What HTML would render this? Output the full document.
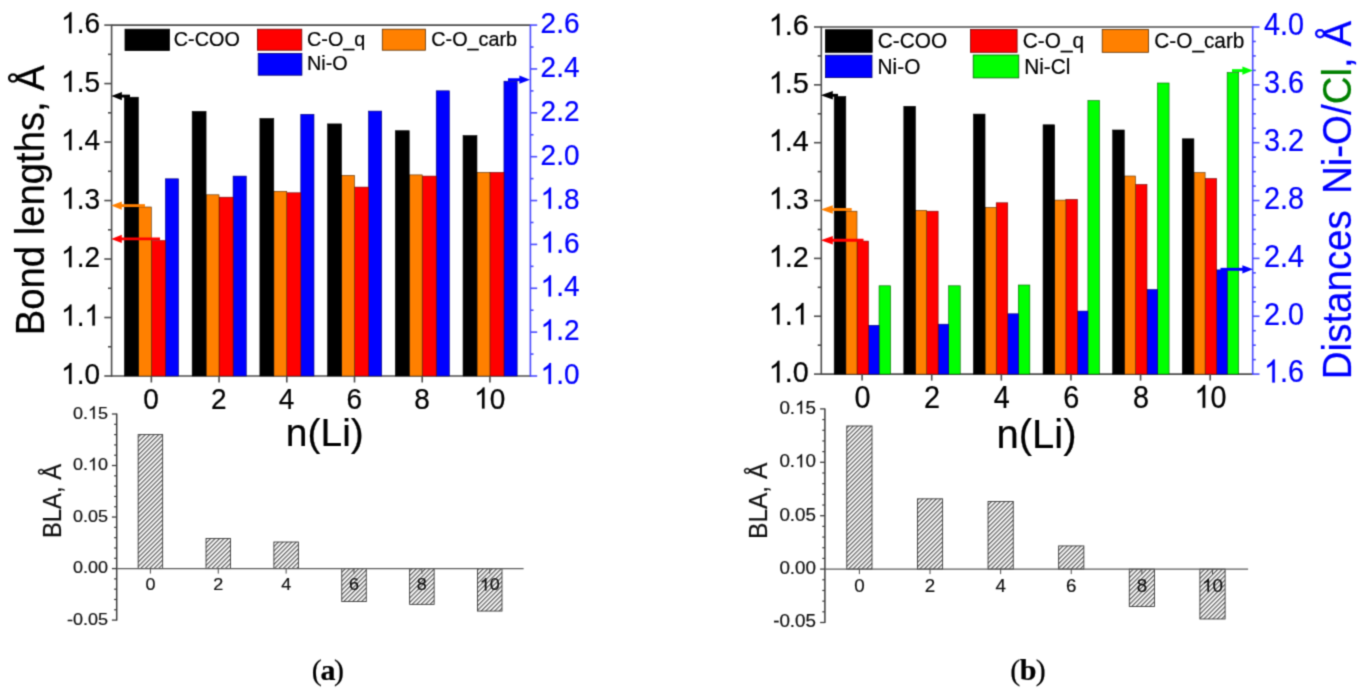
<!DOCTYPE html>
<html><head><meta charset="utf-8"><title>Figure</title>
<style>html,body{margin:0;padding:0;background:#fff;overflow:hidden}svg{display:block}text{font-family:"Liberation Sans",sans-serif;stroke-width:0.22px;stroke-linejoin:round}</style>
</head><body>
<svg width="1366" height="693" viewBox="0 0 1366 693">
<defs><filter id="soft" x="0" y="0" width="1" height="1" filterUnits="objectBoundingBox" color-interpolation-filters="sRGB"><feConvolveMatrix order="3" kernelMatrix="0.03108 0.11414 0.03108 0.11414 0.41911 0.11414 0.03108 0.11414 0.03108" divisor="1" edgeMode="duplicate" preserveAlpha="true"/></filter></defs>
<defs><pattern id="hatch" width="3.15" height="3.15" patternUnits="userSpaceOnUse" patternTransform="rotate(-45)"><rect width="3.15" height="3.15" fill="#fdfdfd"/><rect width="3.15" height="1.15" fill="#555"/></pattern></defs>
<g filter="url(#soft)">
<rect width="1366" height="693" fill="#fff"/>
<line x1="111.60" y1="25.10" x2="530.40" y2="25.10" stroke="#4c4c4c" stroke-width="1.6"/>
<line x1="110.95" y1="376.00" x2="531.05" y2="376.00" stroke="#4c4c4c" stroke-width="1.6"/>
<line x1="111.60" y1="24.45" x2="111.60" y2="376.65" stroke="#4c4c4c" stroke-width="1.6"/>
<line x1="530.40" y1="24.45" x2="530.40" y2="376.65" stroke="#4a4aff" stroke-width="1.6"/>
<rect x="165.35" y="178.80" width="13.20" height="197.20" fill="#0000ff" stroke="#000070" stroke-width="0.6" />
<rect x="151.30" y="240.60" width="14.05" height="135.40" fill="#ff0000" stroke="#700000" stroke-width="0.6" />
<rect x="138.35" y="207.00" width="12.95" height="169.00" fill="#ff8000" stroke="#5a2d00" stroke-width="0.6" />
<rect x="124.45" y="97.20" width="13.90" height="278.80" fill="#000000" stroke="#000000" stroke-width="0.6" />
<rect x="233.07" y="176.10" width="13.20" height="199.90" fill="#0000ff" stroke="#000070" stroke-width="0.6" />
<rect x="219.02" y="197.20" width="14.05" height="178.80" fill="#ff0000" stroke="#700000" stroke-width="0.6" />
<rect x="206.07" y="194.80" width="12.95" height="181.20" fill="#ff8000" stroke="#5a2d00" stroke-width="0.6" />
<rect x="192.17" y="111.40" width="13.90" height="264.60" fill="#000000" stroke="#000000" stroke-width="0.6" />
<rect x="300.79" y="114.30" width="13.20" height="261.70" fill="#0000ff" stroke="#000070" stroke-width="0.6" />
<rect x="286.74" y="192.80" width="14.05" height="183.20" fill="#ff0000" stroke="#700000" stroke-width="0.6" />
<rect x="273.79" y="191.30" width="12.95" height="184.70" fill="#ff8000" stroke="#5a2d00" stroke-width="0.6" />
<rect x="259.89" y="118.50" width="13.90" height="257.50" fill="#000000" stroke="#000000" stroke-width="0.6" />
<rect x="368.51" y="111.10" width="13.20" height="264.90" fill="#0000ff" stroke="#000070" stroke-width="0.6" />
<rect x="354.46" y="187.10" width="14.05" height="188.90" fill="#ff0000" stroke="#700000" stroke-width="0.6" />
<rect x="341.51" y="175.40" width="12.95" height="200.60" fill="#ff8000" stroke="#5a2d00" stroke-width="0.6" />
<rect x="327.61" y="123.90" width="13.90" height="252.10" fill="#000000" stroke="#000000" stroke-width="0.6" />
<rect x="436.23" y="90.80" width="13.20" height="285.20" fill="#0000ff" stroke="#000070" stroke-width="0.6" />
<rect x="422.18" y="176.10" width="14.05" height="199.90" fill="#ff0000" stroke="#700000" stroke-width="0.6" />
<rect x="409.23" y="174.90" width="12.95" height="201.10" fill="#ff8000" stroke="#5a2d00" stroke-width="0.6" />
<rect x="395.33" y="130.70" width="13.90" height="245.30" fill="#000000" stroke="#000000" stroke-width="0.6" />
<rect x="503.95" y="81.20" width="13.20" height="294.80" fill="#0000ff" stroke="#000070" stroke-width="0.6" />
<rect x="489.90" y="172.40" width="14.05" height="203.60" fill="#ff0000" stroke="#700000" stroke-width="0.6" />
<rect x="476.95" y="172.40" width="12.95" height="203.60" fill="#ff8000" stroke="#5a2d00" stroke-width="0.6" />
<rect x="463.05" y="135.60" width="13.90" height="240.40" fill="#000000" stroke="#000000" stroke-width="0.6" />
<line x1="104.30" y1="25.10" x2="111.60" y2="25.10" stroke="#4c4c4c" stroke-width="1.6"/>
<g transform="translate(100.00,33.20) scale(1,1.045)" fill="#000" stroke="#000">
<text x="-23.35 -15.57" y="0" font-size="28">.6</text>
<path transform="translate(-38.93,0) scale(0.01367,-0.01367)" d="M763 0H583V1147Q518 1085 412.5 1023Q307 961 223 930V1104Q374 1175 487 1276Q600 1377 647 1472H763Z" stroke-width="16.1" stroke-linejoin="round"/>
</g>
<line x1="108.00" y1="54.34" x2="111.60" y2="54.34" stroke="#4c4c4c" stroke-width="1.6"/>
<line x1="104.30" y1="83.58" x2="111.60" y2="83.58" stroke="#4c4c4c" stroke-width="1.6"/>
<g transform="translate(100.00,91.68) scale(1,1.045)" fill="#000" stroke="#000">
<text x="-23.35 -15.57" y="0" font-size="28">.5</text>
<path transform="translate(-38.93,0) scale(0.01367,-0.01367)" d="M763 0H583V1147Q518 1085 412.5 1023Q307 961 223 930V1104Q374 1175 487 1276Q600 1377 647 1472H763Z" stroke-width="16.1" stroke-linejoin="round"/>
</g>
<line x1="108.00" y1="112.82" x2="111.60" y2="112.82" stroke="#4c4c4c" stroke-width="1.6"/>
<line x1="104.30" y1="142.07" x2="111.60" y2="142.07" stroke="#4c4c4c" stroke-width="1.6"/>
<g transform="translate(100.00,150.17) scale(1,1.045)" fill="#000" stroke="#000">
<text x="-23.35 -15.57" y="0" font-size="28">.4</text>
<path transform="translate(-38.93,0) scale(0.01367,-0.01367)" d="M763 0H583V1147Q518 1085 412.5 1023Q307 961 223 930V1104Q374 1175 487 1276Q600 1377 647 1472H763Z" stroke-width="16.1" stroke-linejoin="round"/>
</g>
<line x1="108.00" y1="171.31" x2="111.60" y2="171.31" stroke="#4c4c4c" stroke-width="1.6"/>
<line x1="104.30" y1="200.55" x2="111.60" y2="200.55" stroke="#4c4c4c" stroke-width="1.6"/>
<g transform="translate(100.00,208.65) scale(1,1.045)" fill="#000" stroke="#000">
<text x="-23.35 -15.57" y="0" font-size="28">.3</text>
<path transform="translate(-38.93,0) scale(0.01367,-0.01367)" d="M763 0H583V1147Q518 1085 412.5 1023Q307 961 223 930V1104Q374 1175 487 1276Q600 1377 647 1472H763Z" stroke-width="16.1" stroke-linejoin="round"/>
</g>
<line x1="108.00" y1="229.79" x2="111.60" y2="229.79" stroke="#4c4c4c" stroke-width="1.6"/>
<line x1="104.30" y1="259.03" x2="111.60" y2="259.03" stroke="#4c4c4c" stroke-width="1.6"/>
<g transform="translate(100.00,267.13) scale(1,1.045)" fill="#000" stroke="#000">
<text x="-23.35 -15.57" y="0" font-size="28">.2</text>
<path transform="translate(-38.93,0) scale(0.01367,-0.01367)" d="M763 0H583V1147Q518 1085 412.5 1023Q307 961 223 930V1104Q374 1175 487 1276Q600 1377 647 1472H763Z" stroke-width="16.1" stroke-linejoin="round"/>
</g>
<line x1="108.00" y1="288.27" x2="111.60" y2="288.27" stroke="#4c4c4c" stroke-width="1.6"/>
<line x1="104.30" y1="317.52" x2="111.60" y2="317.52" stroke="#4c4c4c" stroke-width="1.6"/>
<g transform="translate(100.00,325.62) scale(1,1.045)" fill="#000" stroke="#000">
<text x="-23.35" y="0" font-size="28">.</text>
<path transform="translate(-38.93,0) scale(0.01367,-0.01367)" d="M763 0H583V1147Q518 1085 412.5 1023Q307 961 223 930V1104Q374 1175 487 1276Q600 1377 647 1472H763Z" stroke-width="16.1" stroke-linejoin="round"/>
<path transform="translate(-15.57,0) scale(0.01367,-0.01367)" d="M763 0H583V1147Q518 1085 412.5 1023Q307 961 223 930V1104Q374 1175 487 1276Q600 1377 647 1472H763Z" stroke-width="16.1" stroke-linejoin="round"/>
</g>
<line x1="108.00" y1="346.76" x2="111.60" y2="346.76" stroke="#4c4c4c" stroke-width="1.6"/>
<line x1="104.30" y1="376.00" x2="111.60" y2="376.00" stroke="#4c4c4c" stroke-width="1.6"/>
<g transform="translate(100.00,384.10) scale(1,1.045)" fill="#000" stroke="#000">
<text x="-23.35 -15.57" y="0" font-size="28">.0</text>
<path transform="translate(-38.93,0) scale(0.01367,-0.01367)" d="M763 0H583V1147Q518 1085 412.5 1023Q307 961 223 930V1104Q374 1175 487 1276Q600 1377 647 1472H763Z" stroke-width="16.1" stroke-linejoin="round"/>
</g>
<line x1="530.40" y1="25.10" x2="537.20" y2="25.10" stroke="#4a4aff" stroke-width="1.6"/>
<g transform="translate(540.60,33.20) scale(1,1.045)" fill="#0000ff" stroke="#0000ff">
<text x="0.00 15.57 23.35" y="0" font-size="28">2.6</text>
</g>
<line x1="530.40" y1="47.03" x2="533.50" y2="47.03" stroke="#4a4aff" stroke-width="1.6"/>
<line x1="530.40" y1="68.96" x2="537.20" y2="68.96" stroke="#4a4aff" stroke-width="1.6"/>
<g transform="translate(540.60,77.06) scale(1,1.045)" fill="#0000ff" stroke="#0000ff">
<text x="0.00 15.57 23.35" y="0" font-size="28">2.4</text>
</g>
<line x1="530.40" y1="90.89" x2="533.50" y2="90.89" stroke="#4a4aff" stroke-width="1.6"/>
<line x1="530.40" y1="112.82" x2="537.20" y2="112.82" stroke="#4a4aff" stroke-width="1.6"/>
<g transform="translate(540.60,120.92) scale(1,1.045)" fill="#0000ff" stroke="#0000ff">
<text x="0.00 15.57 23.35" y="0" font-size="28">2.2</text>
</g>
<line x1="530.40" y1="134.76" x2="533.50" y2="134.76" stroke="#4a4aff" stroke-width="1.6"/>
<line x1="530.40" y1="156.69" x2="537.20" y2="156.69" stroke="#4a4aff" stroke-width="1.6"/>
<g transform="translate(540.60,164.79) scale(1,1.045)" fill="#0000ff" stroke="#0000ff">
<text x="0.00 15.57 23.35" y="0" font-size="28">2.0</text>
</g>
<line x1="530.40" y1="178.62" x2="533.50" y2="178.62" stroke="#4a4aff" stroke-width="1.6"/>
<line x1="530.40" y1="200.55" x2="537.20" y2="200.55" stroke="#4a4aff" stroke-width="1.6"/>
<g transform="translate(540.60,208.65) scale(1,1.045)" fill="#0000ff" stroke="#0000ff">
<text x="15.57 23.35" y="0" font-size="28">.8</text>
<path transform="translate(0.00,0) scale(0.01367,-0.01367)" d="M763 0H583V1147Q518 1085 412.5 1023Q307 961 223 930V1104Q374 1175 487 1276Q600 1377 647 1472H763Z" stroke-width="16.1" stroke-linejoin="round"/>
</g>
<line x1="530.40" y1="222.48" x2="533.50" y2="222.48" stroke="#4a4aff" stroke-width="1.6"/>
<line x1="530.40" y1="244.41" x2="537.20" y2="244.41" stroke="#4a4aff" stroke-width="1.6"/>
<g transform="translate(540.60,252.51) scale(1,1.045)" fill="#0000ff" stroke="#0000ff">
<text x="15.57 23.35" y="0" font-size="28">.6</text>
<path transform="translate(0.00,0) scale(0.01367,-0.01367)" d="M763 0H583V1147Q518 1085 412.5 1023Q307 961 223 930V1104Q374 1175 487 1276Q600 1377 647 1472H763Z" stroke-width="16.1" stroke-linejoin="round"/>
</g>
<line x1="530.40" y1="266.34" x2="533.50" y2="266.34" stroke="#4a4aff" stroke-width="1.6"/>
<line x1="530.40" y1="288.27" x2="537.20" y2="288.27" stroke="#4a4aff" stroke-width="1.6"/>
<g transform="translate(540.60,296.38) scale(1,1.045)" fill="#0000ff" stroke="#0000ff">
<text x="15.57 23.35" y="0" font-size="28">.4</text>
<path transform="translate(0.00,0) scale(0.01367,-0.01367)" d="M763 0H583V1147Q518 1085 412.5 1023Q307 961 223 930V1104Q374 1175 487 1276Q600 1377 647 1472H763Z" stroke-width="16.1" stroke-linejoin="round"/>
</g>
<line x1="530.40" y1="310.21" x2="533.50" y2="310.21" stroke="#4a4aff" stroke-width="1.6"/>
<line x1="530.40" y1="332.14" x2="537.20" y2="332.14" stroke="#4a4aff" stroke-width="1.6"/>
<g transform="translate(540.60,340.24) scale(1,1.045)" fill="#0000ff" stroke="#0000ff">
<text x="15.57 23.35" y="0" font-size="28">.2</text>
<path transform="translate(0.00,0) scale(0.01367,-0.01367)" d="M763 0H583V1147Q518 1085 412.5 1023Q307 961 223 930V1104Q374 1175 487 1276Q600 1377 647 1472H763Z" stroke-width="16.1" stroke-linejoin="round"/>
</g>
<line x1="530.40" y1="354.07" x2="533.50" y2="354.07" stroke="#4a4aff" stroke-width="1.6"/>
<line x1="530.40" y1="376.00" x2="537.20" y2="376.00" stroke="#4a4aff" stroke-width="1.6"/>
<g transform="translate(540.60,384.10) scale(1,1.045)" fill="#0000ff" stroke="#0000ff">
<text x="15.57 23.35" y="0" font-size="28">.0</text>
<path transform="translate(0.00,0) scale(0.01367,-0.01367)" d="M763 0H583V1147Q518 1085 412.5 1023Q307 961 223 930V1104Q374 1175 487 1276Q600 1377 647 1472H763Z" stroke-width="16.1" stroke-linejoin="round"/>
</g>
<line x1="151.35" y1="376.00" x2="151.35" y2="382.50" stroke="#4c4c4c" stroke-width="1.6"/>
<g transform="translate(151.05,408.50) scale(1,1.045)" fill="#000" stroke="#000">
<text x="-7.79" y="0" font-size="28">0</text>
</g>
<line x1="219.07" y1="376.00" x2="219.07" y2="382.50" stroke="#4c4c4c" stroke-width="1.6"/>
<g transform="translate(218.77,408.50) scale(1,1.045)" fill="#000" stroke="#000">
<text x="-7.79" y="0" font-size="28">2</text>
</g>
<line x1="286.79" y1="376.00" x2="286.79" y2="382.50" stroke="#4c4c4c" stroke-width="1.6"/>
<g transform="translate(286.49,408.50) scale(1,1.045)" fill="#000" stroke="#000">
<text x="-7.79" y="0" font-size="28">4</text>
</g>
<line x1="354.51" y1="376.00" x2="354.51" y2="382.50" stroke="#4c4c4c" stroke-width="1.6"/>
<g transform="translate(354.21,408.50) scale(1,1.045)" fill="#000" stroke="#000">
<text x="-7.79" y="0" font-size="28">6</text>
</g>
<line x1="422.23" y1="376.00" x2="422.23" y2="382.50" stroke="#4c4c4c" stroke-width="1.6"/>
<g transform="translate(421.93,408.50) scale(1,1.045)" fill="#000" stroke="#000">
<text x="-7.79" y="0" font-size="28">8</text>
</g>
<line x1="489.95" y1="376.00" x2="489.95" y2="382.50" stroke="#4c4c4c" stroke-width="1.6"/>
<g transform="translate(489.65,408.50) scale(1,1.045)" fill="#000" stroke="#000">
<text x="0.00" y="0" font-size="28">0</text>
<path transform="translate(-15.57,0) scale(0.01367,-0.01367)" d="M763 0H583V1147Q518 1085 412.5 1023Q307 961 223 930V1104Q374 1175 487 1276Q600 1377 647 1472H763Z" stroke-width="16.1" stroke-linejoin="round"/>
</g>
<text x="324.80" y="445.60" font-size="39" fill="#000" stroke="#000" text-anchor="middle">n(Li)</text>
<rect x="125.00" y="29.20" width="44.40" height="21.30" fill="#000000" stroke="#000000" stroke-width="0.8" />
<text transform="translate(173.80,46.20) scale(1,1.045)" font-size="19.8" fill="#000" stroke="#000" text-anchor="start" >C-COO</text>
<rect x="257.40" y="29.20" width="44.40" height="21.00" fill="#ff0000" stroke="#700000" stroke-width="0.8" />
<text transform="translate(307.00,46.20) scale(1,1.045)" font-size="19.8" fill="#000" stroke="#000" text-anchor="start" >C-O_q</text>
<rect x="382.30" y="29.20" width="43.10" height="21.00" fill="#ff8000" stroke="#5a2d00" stroke-width="0.8" />
<text transform="translate(431.30,46.20) scale(1,1.045)" font-size="19.8" fill="#000" stroke="#000" text-anchor="start" >C-O_carb</text>
<rect x="258.20" y="53.40" width="43.70" height="21.80" fill="#0000ff" stroke="#000070" stroke-width="0.8" />
<text transform="translate(307.00,69.90) scale(1,1.045)" font-size="19.8" fill="#000" stroke="#000" text-anchor="start" >Ni-O</text>
<text transform="translate(43.6,200.2) rotate(-90) scale(1,1.045)" font-size="38.5" fill="#000" stroke="#000" text-anchor="middle" textLength="270" lengthAdjust="spacingAndGlyphs">Bond lengths, Å</text>
<line x1="120.90" y1="96.10" x2="130.00" y2="96.10" stroke="#000" stroke-width="2.9"/>
<polygon points="111.30,96.10 121.90,92.00 121.90,100.20" fill="#000"/>
<line x1="120.80" y1="205.60" x2="145.00" y2="205.60" stroke="#ff8000" stroke-width="2.9"/>
<polygon points="111.20,205.60 121.80,201.50 121.80,209.70" fill="#ff8000"/>
<line x1="120.80" y1="238.90" x2="160.00" y2="238.90" stroke="#ff0000" stroke-width="2.9"/>
<polygon points="111.20,238.90 121.80,234.80 121.80,243.00" fill="#ff0000"/>
<line x1="508.00" y1="79.70" x2="520.40" y2="79.70" stroke="#0000ff" stroke-width="2.9"/>
<polygon points="530.00,79.70 519.40,75.60 519.40,83.80" fill="#0000ff"/>
<line x1="821.30" y1="27.00" x2="1252.70" y2="27.00" stroke="#4c4c4c" stroke-width="1.6"/>
<line x1="820.65" y1="374.10" x2="1253.35" y2="374.10" stroke="#4c4c4c" stroke-width="1.6"/>
<line x1="821.30" y1="26.35" x2="821.30" y2="374.75" stroke="#4c4c4c" stroke-width="1.6"/>
<line x1="1252.70" y1="26.35" x2="1252.70" y2="374.75" stroke="#4a4aff" stroke-width="1.6"/>
<rect x="879.05" y="285.80" width="11.55" height="88.30" fill="#00ff00" stroke="#006000" stroke-width="0.6" />
<rect x="868.50" y="325.30" width="10.55" height="48.80" fill="#0000ff" stroke="#000070" stroke-width="0.6" />
<rect x="857.00" y="241.10" width="11.50" height="133.00" fill="#ff0000" stroke="#700000" stroke-width="0.6" />
<rect x="845.80" y="211.20" width="11.20" height="162.90" fill="#ff8000" stroke="#5a2d00" stroke-width="0.6" />
<rect x="834.20" y="96.50" width="11.60" height="277.60" fill="#000000" stroke="#000000" stroke-width="0.6" />
<rect x="948.67" y="285.80" width="11.55" height="88.30" fill="#00ff00" stroke="#006000" stroke-width="0.6" />
<rect x="938.12" y="324.20" width="10.55" height="49.90" fill="#0000ff" stroke="#000070" stroke-width="0.6" />
<rect x="926.62" y="211.20" width="11.50" height="162.90" fill="#ff0000" stroke="#700000" stroke-width="0.6" />
<rect x="915.42" y="210.30" width="11.20" height="163.80" fill="#ff8000" stroke="#5a2d00" stroke-width="0.6" />
<rect x="903.82" y="106.30" width="11.60" height="267.80" fill="#000000" stroke="#000000" stroke-width="0.6" />
<rect x="1018.29" y="285.00" width="11.55" height="89.10" fill="#00ff00" stroke="#006000" stroke-width="0.6" />
<rect x="1007.74" y="313.80" width="10.55" height="60.30" fill="#0000ff" stroke="#000070" stroke-width="0.6" />
<rect x="996.24" y="202.80" width="11.50" height="171.30" fill="#ff0000" stroke="#700000" stroke-width="0.6" />
<rect x="985.04" y="207.40" width="11.20" height="166.70" fill="#ff8000" stroke="#5a2d00" stroke-width="0.6" />
<rect x="973.44" y="114.10" width="11.60" height="260.00" fill="#000000" stroke="#000000" stroke-width="0.6" />
<rect x="1087.91" y="100.60" width="11.55" height="273.50" fill="#00ff00" stroke="#006000" stroke-width="0.6" />
<rect x="1077.36" y="311.10" width="10.55" height="63.00" fill="#0000ff" stroke="#000070" stroke-width="0.6" />
<rect x="1065.86" y="199.40" width="11.50" height="174.70" fill="#ff0000" stroke="#700000" stroke-width="0.6" />
<rect x="1054.66" y="200.10" width="11.20" height="174.00" fill="#ff8000" stroke="#5a2d00" stroke-width="0.6" />
<rect x="1043.06" y="124.80" width="11.60" height="249.30" fill="#000000" stroke="#000000" stroke-width="0.6" />
<rect x="1157.53" y="83.00" width="11.55" height="291.10" fill="#00ff00" stroke="#006000" stroke-width="0.6" />
<rect x="1146.98" y="289.50" width="10.55" height="84.60" fill="#0000ff" stroke="#000070" stroke-width="0.6" />
<rect x="1135.48" y="184.50" width="11.50" height="189.60" fill="#ff0000" stroke="#700000" stroke-width="0.6" />
<rect x="1124.28" y="176.00" width="11.20" height="198.10" fill="#ff8000" stroke="#5a2d00" stroke-width="0.6" />
<rect x="1112.68" y="130.00" width="11.60" height="244.10" fill="#000000" stroke="#000000" stroke-width="0.6" />
<rect x="1227.15" y="72.60" width="11.55" height="301.50" fill="#00ff00" stroke="#006000" stroke-width="0.6" />
<rect x="1216.60" y="269.90" width="10.55" height="104.20" fill="#0000ff" stroke="#000070" stroke-width="0.6" />
<rect x="1205.10" y="178.60" width="11.50" height="195.50" fill="#ff0000" stroke="#700000" stroke-width="0.6" />
<rect x="1193.90" y="172.60" width="11.20" height="201.50" fill="#ff8000" stroke="#5a2d00" stroke-width="0.6" />
<rect x="1182.30" y="138.80" width="11.60" height="235.30" fill="#000000" stroke="#000000" stroke-width="0.6" />
<line x1="814.00" y1="27.00" x2="821.30" y2="27.00" stroke="#4c4c4c" stroke-width="1.6"/>
<g transform="translate(808.80,35.30) scale(1,1.045)" fill="#000" stroke="#000">
<text x="-24.02 -16.02" y="0" font-size="28.8">.6</text>
<path transform="translate(-40.04,0) scale(0.01406,-0.01406)" d="M763 0H583V1147Q518 1085 412.5 1023Q307 961 223 930V1104Q374 1175 487 1276Q600 1377 647 1472H763Z" stroke-width="15.6" stroke-linejoin="round"/>
</g>
<line x1="817.70" y1="55.92" x2="821.30" y2="55.92" stroke="#4c4c4c" stroke-width="1.6"/>
<line x1="814.00" y1="84.85" x2="821.30" y2="84.85" stroke="#4c4c4c" stroke-width="1.6"/>
<g transform="translate(808.80,93.15) scale(1,1.045)" fill="#000" stroke="#000">
<text x="-24.02 -16.02" y="0" font-size="28.8">.5</text>
<path transform="translate(-40.04,0) scale(0.01406,-0.01406)" d="M763 0H583V1147Q518 1085 412.5 1023Q307 961 223 930V1104Q374 1175 487 1276Q600 1377 647 1472H763Z" stroke-width="15.6" stroke-linejoin="round"/>
</g>
<line x1="817.70" y1="113.77" x2="821.30" y2="113.77" stroke="#4c4c4c" stroke-width="1.6"/>
<line x1="814.00" y1="142.70" x2="821.30" y2="142.70" stroke="#4c4c4c" stroke-width="1.6"/>
<g transform="translate(808.80,151.00) scale(1,1.045)" fill="#000" stroke="#000">
<text x="-24.02 -16.02" y="0" font-size="28.8">.4</text>
<path transform="translate(-40.04,0) scale(0.01406,-0.01406)" d="M763 0H583V1147Q518 1085 412.5 1023Q307 961 223 930V1104Q374 1175 487 1276Q600 1377 647 1472H763Z" stroke-width="15.6" stroke-linejoin="round"/>
</g>
<line x1="817.70" y1="171.62" x2="821.30" y2="171.62" stroke="#4c4c4c" stroke-width="1.6"/>
<line x1="814.00" y1="200.55" x2="821.30" y2="200.55" stroke="#4c4c4c" stroke-width="1.6"/>
<g transform="translate(808.80,208.85) scale(1,1.045)" fill="#000" stroke="#000">
<text x="-24.02 -16.02" y="0" font-size="28.8">.3</text>
<path transform="translate(-40.04,0) scale(0.01406,-0.01406)" d="M763 0H583V1147Q518 1085 412.5 1023Q307 961 223 930V1104Q374 1175 487 1276Q600 1377 647 1472H763Z" stroke-width="15.6" stroke-linejoin="round"/>
</g>
<line x1="817.70" y1="229.48" x2="821.30" y2="229.48" stroke="#4c4c4c" stroke-width="1.6"/>
<line x1="814.00" y1="258.40" x2="821.30" y2="258.40" stroke="#4c4c4c" stroke-width="1.6"/>
<g transform="translate(808.80,266.70) scale(1,1.045)" fill="#000" stroke="#000">
<text x="-24.02 -16.02" y="0" font-size="28.8">.2</text>
<path transform="translate(-40.04,0) scale(0.01406,-0.01406)" d="M763 0H583V1147Q518 1085 412.5 1023Q307 961 223 930V1104Q374 1175 487 1276Q600 1377 647 1472H763Z" stroke-width="15.6" stroke-linejoin="round"/>
</g>
<line x1="817.70" y1="287.32" x2="821.30" y2="287.32" stroke="#4c4c4c" stroke-width="1.6"/>
<line x1="814.00" y1="316.25" x2="821.30" y2="316.25" stroke="#4c4c4c" stroke-width="1.6"/>
<g transform="translate(808.80,324.55) scale(1,1.045)" fill="#000" stroke="#000">
<text x="-24.02" y="0" font-size="28.8">.</text>
<path transform="translate(-40.04,0) scale(0.01406,-0.01406)" d="M763 0H583V1147Q518 1085 412.5 1023Q307 961 223 930V1104Q374 1175 487 1276Q600 1377 647 1472H763Z" stroke-width="15.6" stroke-linejoin="round"/>
<path transform="translate(-16.02,0) scale(0.01406,-0.01406)" d="M763 0H583V1147Q518 1085 412.5 1023Q307 961 223 930V1104Q374 1175 487 1276Q600 1377 647 1472H763Z" stroke-width="15.6" stroke-linejoin="round"/>
</g>
<line x1="817.70" y1="345.18" x2="821.30" y2="345.18" stroke="#4c4c4c" stroke-width="1.6"/>
<line x1="814.00" y1="374.10" x2="821.30" y2="374.10" stroke="#4c4c4c" stroke-width="1.6"/>
<g transform="translate(808.80,382.40) scale(1,1.045)" fill="#000" stroke="#000">
<text x="-24.02 -16.02" y="0" font-size="28.8">.0</text>
<path transform="translate(-40.04,0) scale(0.01406,-0.01406)" d="M763 0H583V1147Q518 1085 412.5 1023Q307 961 223 930V1104Q374 1175 487 1276Q600 1377 647 1472H763Z" stroke-width="15.6" stroke-linejoin="round"/>
</g>
<line x1="1252.70" y1="27.00" x2="1259.50" y2="27.00" stroke="#4a4aff" stroke-width="1.6"/>
<g transform="translate(1264.10,35.30) scale(1,1.11)" fill="#0000ff" stroke="#0000ff">
<text x="0.00 16.02 24.02" y="0" font-size="28.8">4.0</text>
</g>
<line x1="1252.70" y1="41.46" x2="1255.80" y2="41.46" stroke="#4a4aff" stroke-width="1.6"/>
<line x1="1252.70" y1="55.92" x2="1255.80" y2="55.92" stroke="#4a4aff" stroke-width="1.6"/>
<line x1="1252.70" y1="70.39" x2="1255.80" y2="70.39" stroke="#4a4aff" stroke-width="1.6"/>
<line x1="1252.70" y1="84.85" x2="1259.50" y2="84.85" stroke="#4a4aff" stroke-width="1.6"/>
<g transform="translate(1264.10,93.15) scale(1,1.11)" fill="#0000ff" stroke="#0000ff">
<text x="0.00 16.02 24.02" y="0" font-size="28.8">3.6</text>
</g>
<line x1="1252.70" y1="99.31" x2="1255.80" y2="99.31" stroke="#4a4aff" stroke-width="1.6"/>
<line x1="1252.70" y1="113.77" x2="1255.80" y2="113.77" stroke="#4a4aff" stroke-width="1.6"/>
<line x1="1252.70" y1="128.24" x2="1255.80" y2="128.24" stroke="#4a4aff" stroke-width="1.6"/>
<line x1="1252.70" y1="142.70" x2="1259.50" y2="142.70" stroke="#4a4aff" stroke-width="1.6"/>
<g transform="translate(1264.10,151.00) scale(1,1.11)" fill="#0000ff" stroke="#0000ff">
<text x="0.00 16.02 24.02" y="0" font-size="28.8">3.2</text>
</g>
<line x1="1252.70" y1="157.16" x2="1255.80" y2="157.16" stroke="#4a4aff" stroke-width="1.6"/>
<line x1="1252.70" y1="171.62" x2="1255.80" y2="171.62" stroke="#4a4aff" stroke-width="1.6"/>
<line x1="1252.70" y1="186.09" x2="1255.80" y2="186.09" stroke="#4a4aff" stroke-width="1.6"/>
<line x1="1252.70" y1="200.55" x2="1259.50" y2="200.55" stroke="#4a4aff" stroke-width="1.6"/>
<g transform="translate(1264.10,208.85) scale(1,1.11)" fill="#0000ff" stroke="#0000ff">
<text x="0.00 16.02 24.02" y="0" font-size="28.8">2.8</text>
</g>
<line x1="1252.70" y1="215.01" x2="1255.80" y2="215.01" stroke="#4a4aff" stroke-width="1.6"/>
<line x1="1252.70" y1="229.48" x2="1255.80" y2="229.48" stroke="#4a4aff" stroke-width="1.6"/>
<line x1="1252.70" y1="243.94" x2="1255.80" y2="243.94" stroke="#4a4aff" stroke-width="1.6"/>
<line x1="1252.70" y1="258.40" x2="1259.50" y2="258.40" stroke="#4a4aff" stroke-width="1.6"/>
<g transform="translate(1264.10,266.70) scale(1,1.11)" fill="#0000ff" stroke="#0000ff">
<text x="0.00 16.02 24.02" y="0" font-size="28.8">2.4</text>
</g>
<line x1="1252.70" y1="272.86" x2="1255.80" y2="272.86" stroke="#4a4aff" stroke-width="1.6"/>
<line x1="1252.70" y1="287.32" x2="1255.80" y2="287.32" stroke="#4a4aff" stroke-width="1.6"/>
<line x1="1252.70" y1="301.79" x2="1255.80" y2="301.79" stroke="#4a4aff" stroke-width="1.6"/>
<line x1="1252.70" y1="316.25" x2="1259.50" y2="316.25" stroke="#4a4aff" stroke-width="1.6"/>
<g transform="translate(1264.10,324.55) scale(1,1.11)" fill="#0000ff" stroke="#0000ff">
<text x="0.00 16.02 24.02" y="0" font-size="28.8">2.0</text>
</g>
<line x1="1252.70" y1="330.71" x2="1255.80" y2="330.71" stroke="#4a4aff" stroke-width="1.6"/>
<line x1="1252.70" y1="345.18" x2="1255.80" y2="345.18" stroke="#4a4aff" stroke-width="1.6"/>
<line x1="1252.70" y1="359.64" x2="1255.80" y2="359.64" stroke="#4a4aff" stroke-width="1.6"/>
<line x1="1252.70" y1="374.10" x2="1259.50" y2="374.10" stroke="#4a4aff" stroke-width="1.6"/>
<g transform="translate(1264.10,382.40) scale(1,1.11)" fill="#0000ff" stroke="#0000ff">
<text x="16.02 24.02" y="0" font-size="28.8">.6</text>
<path transform="translate(0.00,0) scale(0.01406,-0.01406)" d="M763 0H583V1147Q518 1085 412.5 1023Q307 961 223 930V1104Q374 1175 487 1276Q600 1377 647 1472H763Z" stroke-width="15.6" stroke-linejoin="round"/>
</g>
<line x1="862.10" y1="374.10" x2="862.10" y2="380.60" stroke="#4c4c4c" stroke-width="1.6"/>
<g transform="translate(862.40,407.70) scale(1,1.1)" fill="#000" stroke="#000">
<text x="-8.01" y="0" font-size="28.8">0</text>
</g>
<line x1="931.72" y1="374.10" x2="931.72" y2="380.60" stroke="#4c4c4c" stroke-width="1.6"/>
<g transform="translate(932.02,407.70) scale(1,1.1)" fill="#000" stroke="#000">
<text x="-8.01" y="0" font-size="28.8">2</text>
</g>
<line x1="1001.34" y1="374.10" x2="1001.34" y2="380.60" stroke="#4c4c4c" stroke-width="1.6"/>
<g transform="translate(1001.64,407.70) scale(1,1.1)" fill="#000" stroke="#000">
<text x="-8.01" y="0" font-size="28.8">4</text>
</g>
<line x1="1070.96" y1="374.10" x2="1070.96" y2="380.60" stroke="#4c4c4c" stroke-width="1.6"/>
<g transform="translate(1071.26,407.70) scale(1,1.1)" fill="#000" stroke="#000">
<text x="-8.01" y="0" font-size="28.8">6</text>
</g>
<line x1="1140.58" y1="374.10" x2="1140.58" y2="380.60" stroke="#4c4c4c" stroke-width="1.6"/>
<g transform="translate(1140.88,407.70) scale(1,1.1)" fill="#000" stroke="#000">
<text x="-8.01" y="0" font-size="28.8">8</text>
</g>
<line x1="1210.20" y1="374.10" x2="1210.20" y2="380.60" stroke="#4c4c4c" stroke-width="1.6"/>
<g transform="translate(1210.50,407.70) scale(1,1.1)" fill="#000" stroke="#000">
<text x="0.00" y="0" font-size="28.8">0</text>
<path transform="translate(-16.02,0) scale(0.01406,-0.01406)" d="M763 0H583V1147Q518 1085 412.5 1023Q307 961 223 930V1104Q374 1175 487 1276Q600 1377 647 1472H763Z" stroke-width="15.6" stroke-linejoin="round"/>
</g>
<text x="1036.50" y="448.30" font-size="40" fill="#000" stroke="#000" text-anchor="middle">n(Li)</text>
<rect x="825.40" y="29.70" width="46.80" height="22.60" fill="#000000" stroke="#000000" stroke-width="0.8" />
<text transform="translate(877.80,47.60) scale(1,1.045)" font-size="20.8" fill="#000" stroke="#000" text-anchor="start" >C-COO</text>
<rect x="970.60" y="29.50" width="46.50" height="22.80" fill="#ff0000" stroke="#700000" stroke-width="0.8" />
<text transform="translate(1022.80,47.50) scale(1,1.045)" font-size="20.8" fill="#000" stroke="#000" text-anchor="start" >C-O_q</text>
<rect x="1102.20" y="29.50" width="46.40" height="22.80" fill="#ff8000" stroke="#5a2d00" stroke-width="0.8" />
<text transform="translate(1154.30,47.50) scale(1,1.045)" font-size="20.8" fill="#000" stroke="#000" text-anchor="start" >C-O_carb</text>
<rect x="825.40" y="55.20" width="46.60" height="22.40" fill="#0000ff" stroke="#000070" stroke-width="0.8" />
<text transform="translate(877.60,73.80) scale(1,1.045)" font-size="20.8" fill="#000" stroke="#000" text-anchor="start" >Ni-O</text>
<rect x="973.20" y="55.00" width="45.60" height="22.90" fill="#00ff00" stroke="#006000" stroke-width="0.8" />
<text transform="translate(1024.20,73.80) scale(1,1.045)" font-size="20.8" fill="#000" stroke="#000" text-anchor="start" >Ni-Cl</text>
<text transform="translate(1351,379.2) rotate(-90) scale(1,1.045)" font-size="38.5" fill="#0000ff" stroke="#0000ff" text-anchor="start">Distances <tspan dx="5.5">Ni-O/</tspan><tspan fill="#008000" stroke="#008000">Cl</tspan>, Å</text>
<line x1="831.80" y1="95.30" x2="838.00" y2="95.30" stroke="#000" stroke-width="2.9"/>
<polygon points="820.80,95.30 832.80,91.00 832.80,99.60" fill="#000"/>
<line x1="831.80" y1="209.50" x2="851.70" y2="209.50" stroke="#ff8000" stroke-width="2.9"/>
<polygon points="820.80,209.50 832.80,205.20 832.80,213.80" fill="#ff8000"/>
<line x1="831.80" y1="240.30" x2="863.50" y2="240.30" stroke="#ff0000" stroke-width="2.9"/>
<polygon points="820.80,240.30 832.80,236.00 832.80,244.60" fill="#ff0000"/>
<line x1="1232.00" y1="70.60" x2="1243.40" y2="70.60" stroke="#00ff00" stroke-width="2.9"/>
<polygon points="1253.00,70.60 1242.40,66.50 1242.40,74.70" fill="#00ff00"/>
<line x1="1220.50" y1="269.30" x2="1243.40" y2="269.30" stroke="#0000ff" stroke-width="2.9"/>
<polygon points="1253.00,269.30 1242.40,265.20 1242.40,273.40" fill="#0000ff"/>
<rect x="138.15" y="434.61" width="24.50" height="133.99" fill="url(#hatch)" stroke="#303030" stroke-width="0.85" />
<rect x="206.02" y="538.50" width="24.50" height="30.10" fill="url(#hatch)" stroke="#303030" stroke-width="0.85" />
<rect x="273.89" y="542.01" width="24.50" height="26.59" fill="url(#hatch)" stroke="#303030" stroke-width="0.85" />
<rect x="341.76" y="568.60" width="24.50" height="32.98" fill="url(#hatch)" stroke="#303030" stroke-width="0.85" />
<rect x="409.63" y="568.60" width="24.50" height="35.76" fill="url(#hatch)" stroke="#303030" stroke-width="0.85" />
<rect x="477.50" y="568.60" width="24.50" height="42.46" fill="url(#hatch)" stroke="#303030" stroke-width="0.85" />
<line x1="116.70" y1="413.50" x2="116.70" y2="620.60" stroke="#3c3c3c" stroke-width="1.5"/>
<line x1="116.70" y1="568.60" x2="523.60" y2="568.60" stroke="#5c5c5c" stroke-width="1.45"/>
<line x1="111.90" y1="414.00" x2="116.70" y2="414.00" stroke="#3c3c3c" stroke-width="1.3"/>
<g transform="translate(108.00,418.70) scale(1,0.96)" fill="#111" stroke="#111">
<text x="-35.04 -25.02 -10.01" y="0" font-size="18">0.5</text>
<path transform="translate(-20.02,0) scale(0.00879,-0.00879)" d="M763 0H583V1147Q518 1085 412.5 1023Q307 961 223 930V1104Q374 1175 487 1276Q600 1377 647 1472H763Z" stroke-width="25.0" stroke-linejoin="round"/>
</g>
<line x1="114.10" y1="424.31" x2="116.70" y2="424.31" stroke="#3c3c3c" stroke-width="1.2"/>
<line x1="114.10" y1="434.61" x2="116.70" y2="434.61" stroke="#3c3c3c" stroke-width="1.2"/>
<line x1="114.10" y1="444.92" x2="116.70" y2="444.92" stroke="#3c3c3c" stroke-width="1.2"/>
<line x1="114.10" y1="455.22" x2="116.70" y2="455.22" stroke="#3c3c3c" stroke-width="1.2"/>
<line x1="111.90" y1="465.52" x2="116.70" y2="465.52" stroke="#3c3c3c" stroke-width="1.3"/>
<g transform="translate(108.00,470.22) scale(1,0.96)" fill="#111" stroke="#111">
<text x="-35.04 -25.02 -10.01" y="0" font-size="18">0.0</text>
<path transform="translate(-20.02,0) scale(0.00879,-0.00879)" d="M763 0H583V1147Q518 1085 412.5 1023Q307 961 223 930V1104Q374 1175 487 1276Q600 1377 647 1472H763Z" stroke-width="25.0" stroke-linejoin="round"/>
</g>
<line x1="114.10" y1="475.83" x2="116.70" y2="475.83" stroke="#3c3c3c" stroke-width="1.2"/>
<line x1="114.10" y1="486.13" x2="116.70" y2="486.13" stroke="#3c3c3c" stroke-width="1.2"/>
<line x1="114.10" y1="496.44" x2="116.70" y2="496.44" stroke="#3c3c3c" stroke-width="1.2"/>
<line x1="114.10" y1="506.75" x2="116.70" y2="506.75" stroke="#3c3c3c" stroke-width="1.2"/>
<line x1="111.90" y1="517.05" x2="116.70" y2="517.05" stroke="#3c3c3c" stroke-width="1.3"/>
<g transform="translate(108.00,521.75) scale(1,0.96)" fill="#111" stroke="#111">
<text x="-35.04 -25.02 -20.02 -10.01" y="0" font-size="18">0.05</text>
</g>
<line x1="114.10" y1="527.36" x2="116.70" y2="527.36" stroke="#3c3c3c" stroke-width="1.2"/>
<line x1="114.10" y1="537.66" x2="116.70" y2="537.66" stroke="#3c3c3c" stroke-width="1.2"/>
<line x1="114.10" y1="547.97" x2="116.70" y2="547.97" stroke="#3c3c3c" stroke-width="1.2"/>
<line x1="114.10" y1="558.27" x2="116.70" y2="558.27" stroke="#3c3c3c" stroke-width="1.2"/>
<line x1="111.90" y1="568.58" x2="116.70" y2="568.58" stroke="#3c3c3c" stroke-width="1.3"/>
<g transform="translate(108.00,573.28) scale(1,0.96)" fill="#111" stroke="#111">
<text x="-35.04 -25.02 -20.02 -10.01" y="0" font-size="18">0.00</text>
</g>
<line x1="114.10" y1="578.88" x2="116.70" y2="578.88" stroke="#3c3c3c" stroke-width="1.2"/>
<line x1="114.10" y1="589.18" x2="116.70" y2="589.18" stroke="#3c3c3c" stroke-width="1.2"/>
<line x1="114.10" y1="599.49" x2="116.70" y2="599.49" stroke="#3c3c3c" stroke-width="1.2"/>
<line x1="114.10" y1="609.80" x2="116.70" y2="609.80" stroke="#3c3c3c" stroke-width="1.2"/>
<line x1="111.90" y1="620.10" x2="116.70" y2="620.10" stroke="#3c3c3c" stroke-width="1.3"/>
<g transform="translate(108.00,624.80) scale(1,0.96)" fill="#111" stroke="#111">
<text x="-41.03 -35.04 -25.02 -20.02 -10.01" y="0" font-size="18">-0.05</text>
</g>
<line x1="150.40" y1="568.60" x2="150.40" y2="573.60" stroke="#4c4c4c" stroke-width="1.0"/>
<g transform="translate(150.40,590.40) scale(1,0.96)" fill="#111" stroke="#111">
<text x="-5.01" y="0" font-size="18">0</text>
</g>
<line x1="218.27" y1="568.60" x2="218.27" y2="573.60" stroke="#4c4c4c" stroke-width="1.0"/>
<g transform="translate(218.27,590.40) scale(1,0.96)" fill="#111" stroke="#111">
<text x="-5.01" y="0" font-size="18">2</text>
</g>
<line x1="286.14" y1="568.60" x2="286.14" y2="573.60" stroke="#4c4c4c" stroke-width="1.0"/>
<g transform="translate(286.14,590.40) scale(1,0.96)" fill="#111" stroke="#111">
<text x="-5.01" y="0" font-size="18">4</text>
</g>
<line x1="354.01" y1="568.60" x2="354.01" y2="573.60" stroke="#4c4c4c" stroke-width="1.0"/>
<g transform="translate(354.01,590.40) scale(1,0.96)" fill="#111" stroke="#111">
<text x="-5.01" y="0" font-size="18">6</text>
</g>
<line x1="421.88" y1="568.60" x2="421.88" y2="573.60" stroke="#4c4c4c" stroke-width="1.0"/>
<g transform="translate(421.88,590.40) scale(1,0.96)" fill="#111" stroke="#111">
<text x="-5.01" y="0" font-size="18">8</text>
</g>
<line x1="489.75" y1="568.60" x2="489.75" y2="573.60" stroke="#4c4c4c" stroke-width="1.0"/>
<g transform="translate(489.75,590.40) scale(1,0.96)" fill="#111" stroke="#111">
<text x="0.00" y="0" font-size="18">0</text>
<path transform="translate(-10.01,0) scale(0.00879,-0.00879)" d="M763 0H583V1147Q518 1085 412.5 1023Q307 961 223 930V1104Q374 1175 487 1276Q600 1377 647 1472H763Z" stroke-width="25.0" stroke-linejoin="round"/>
</g>
<text transform="translate(61.20,501.00) rotate(-90) scale(1,1.045)" font-size="23.8" fill="#111" stroke="#111" text-anchor="middle">BLA, Å</text>
<rect x="846.80" y="425.99" width="25.20" height="143.11" fill="url(#hatch)" stroke="#303030" stroke-width="0.85" />
<rect x="917.42" y="498.83" width="25.20" height="70.27" fill="url(#hatch)" stroke="#303030" stroke-width="0.85" />
<rect x="988.04" y="501.50" width="25.20" height="67.60" fill="url(#hatch)" stroke="#303030" stroke-width="0.85" />
<rect x="1058.66" y="545.92" width="25.20" height="23.18" fill="url(#hatch)" stroke="#303030" stroke-width="0.85" />
<rect x="1129.28" y="569.10" width="25.20" height="37.38" fill="url(#hatch)" stroke="#303030" stroke-width="0.85" />
<rect x="1199.90" y="569.10" width="25.20" height="49.88" fill="url(#hatch)" stroke="#303030" stroke-width="0.85" />
<line x1="824.90" y1="408.40" x2="824.90" y2="623.00" stroke="#3c3c3c" stroke-width="1.5"/>
<line x1="824.90" y1="569.10" x2="1248.10" y2="569.10" stroke="#5c5c5c" stroke-width="1.45"/>
<line x1="820.10" y1="408.90" x2="824.90" y2="408.90" stroke="#3c3c3c" stroke-width="1.3"/>
<g transform="translate(816.00,413.80) scale(1,0.96)" fill="#111" stroke="#111">
<text x="-36.59 -26.14 -10.46" y="0" font-size="18.8">0.5</text>
<path transform="translate(-20.91,0) scale(0.00918,-0.00918)" d="M763 0H583V1147Q518 1085 412.5 1023Q307 961 223 930V1104Q374 1175 487 1276Q600 1377 647 1472H763Z" stroke-width="24.0" stroke-linejoin="round"/>
</g>
<line x1="822.30" y1="419.58" x2="824.90" y2="419.58" stroke="#3c3c3c" stroke-width="1.2"/>
<line x1="822.30" y1="430.26" x2="824.90" y2="430.26" stroke="#3c3c3c" stroke-width="1.2"/>
<line x1="822.30" y1="440.94" x2="824.90" y2="440.94" stroke="#3c3c3c" stroke-width="1.2"/>
<line x1="822.30" y1="451.62" x2="824.90" y2="451.62" stroke="#3c3c3c" stroke-width="1.2"/>
<line x1="820.10" y1="462.30" x2="824.90" y2="462.30" stroke="#3c3c3c" stroke-width="1.3"/>
<g transform="translate(816.00,467.20) scale(1,0.96)" fill="#111" stroke="#111">
<text x="-36.59 -26.14 -10.46" y="0" font-size="18.8">0.0</text>
<path transform="translate(-20.91,0) scale(0.00918,-0.00918)" d="M763 0H583V1147Q518 1085 412.5 1023Q307 961 223 930V1104Q374 1175 487 1276Q600 1377 647 1472H763Z" stroke-width="24.0" stroke-linejoin="round"/>
</g>
<line x1="822.30" y1="472.98" x2="824.90" y2="472.98" stroke="#3c3c3c" stroke-width="1.2"/>
<line x1="822.30" y1="483.66" x2="824.90" y2="483.66" stroke="#3c3c3c" stroke-width="1.2"/>
<line x1="822.30" y1="494.34" x2="824.90" y2="494.34" stroke="#3c3c3c" stroke-width="1.2"/>
<line x1="822.30" y1="505.02" x2="824.90" y2="505.02" stroke="#3c3c3c" stroke-width="1.2"/>
<line x1="820.10" y1="515.70" x2="824.90" y2="515.70" stroke="#3c3c3c" stroke-width="1.3"/>
<g transform="translate(816.00,520.60) scale(1,0.96)" fill="#111" stroke="#111">
<text x="-36.59 -26.14 -20.91 -10.46" y="0" font-size="18.8">0.05</text>
</g>
<line x1="822.30" y1="526.38" x2="824.90" y2="526.38" stroke="#3c3c3c" stroke-width="1.2"/>
<line x1="822.30" y1="537.06" x2="824.90" y2="537.06" stroke="#3c3c3c" stroke-width="1.2"/>
<line x1="822.30" y1="547.74" x2="824.90" y2="547.74" stroke="#3c3c3c" stroke-width="1.2"/>
<line x1="822.30" y1="558.42" x2="824.90" y2="558.42" stroke="#3c3c3c" stroke-width="1.2"/>
<line x1="820.10" y1="569.10" x2="824.90" y2="569.10" stroke="#3c3c3c" stroke-width="1.3"/>
<g transform="translate(816.00,574.00) scale(1,0.96)" fill="#111" stroke="#111">
<text x="-36.59 -26.14 -20.91 -10.46" y="0" font-size="18.8">0.00</text>
</g>
<line x1="822.30" y1="579.78" x2="824.90" y2="579.78" stroke="#3c3c3c" stroke-width="1.2"/>
<line x1="822.30" y1="590.46" x2="824.90" y2="590.46" stroke="#3c3c3c" stroke-width="1.2"/>
<line x1="822.30" y1="601.14" x2="824.90" y2="601.14" stroke="#3c3c3c" stroke-width="1.2"/>
<line x1="822.30" y1="611.82" x2="824.90" y2="611.82" stroke="#3c3c3c" stroke-width="1.2"/>
<line x1="820.10" y1="622.50" x2="824.90" y2="622.50" stroke="#3c3c3c" stroke-width="1.3"/>
<g transform="translate(816.00,627.40) scale(1,0.96)" fill="#111" stroke="#111">
<text x="-42.85 -36.59 -26.14 -20.91 -10.46" y="0" font-size="18.8">-0.05</text>
</g>
<line x1="859.40" y1="569.10" x2="859.40" y2="574.10" stroke="#4c4c4c" stroke-width="1.0"/>
<g transform="translate(859.40,591.80) scale(1,0.96)" fill="#111" stroke="#111">
<text x="-5.23" y="0" font-size="18.8">0</text>
</g>
<line x1="930.02" y1="569.10" x2="930.02" y2="574.10" stroke="#4c4c4c" stroke-width="1.0"/>
<g transform="translate(930.02,591.80) scale(1,0.96)" fill="#111" stroke="#111">
<text x="-5.23" y="0" font-size="18.8">2</text>
</g>
<line x1="1000.64" y1="569.10" x2="1000.64" y2="574.10" stroke="#4c4c4c" stroke-width="1.0"/>
<g transform="translate(1000.64,591.80) scale(1,0.96)" fill="#111" stroke="#111">
<text x="-5.23" y="0" font-size="18.8">4</text>
</g>
<line x1="1071.26" y1="569.10" x2="1071.26" y2="574.10" stroke="#4c4c4c" stroke-width="1.0"/>
<g transform="translate(1071.26,591.80) scale(1,0.96)" fill="#111" stroke="#111">
<text x="-5.23" y="0" font-size="18.8">6</text>
</g>
<line x1="1141.88" y1="569.10" x2="1141.88" y2="574.10" stroke="#4c4c4c" stroke-width="1.0"/>
<g transform="translate(1141.88,591.80) scale(1,0.96)" fill="#111" stroke="#111">
<text x="-5.23" y="0" font-size="18.8">8</text>
</g>
<line x1="1212.50" y1="569.10" x2="1212.50" y2="574.10" stroke="#4c4c4c" stroke-width="1.0"/>
<g transform="translate(1212.50,591.80) scale(1,0.96)" fill="#111" stroke="#111">
<text x="0.00" y="0" font-size="18.8">0</text>
<path transform="translate(-10.46,0) scale(0.00918,-0.00918)" d="M763 0H583V1147Q518 1085 412.5 1023Q307 961 223 930V1104Q374 1175 487 1276Q600 1377 647 1472H763Z" stroke-width="24.0" stroke-linejoin="round"/>
</g>
<text transform="translate(767.20,500.80) rotate(-90) scale(1,1.045)" font-size="24.5" fill="#111" stroke="#111" text-anchor="middle">BLA, Å</text>
<text x="327.9" y="680" font-size="30" text-anchor="middle" style="font-family:'Liberation Serif',serif" fill="#000" stroke="#000" stroke-width="0.3">(<tspan font-weight="bold" dx="-1.3">a</tspan><tspan dx="-1.3">)</tspan></text>
<text x="1028.0" y="680" font-size="30" text-anchor="middle" style="font-family:'Liberation Serif',serif" fill="#000" stroke="#000" stroke-width="0.3">(<tspan font-weight="bold" dx="-0.6">b</tspan><tspan dx="-0.6">)</tspan></text>
</g>
</svg></body></html>
